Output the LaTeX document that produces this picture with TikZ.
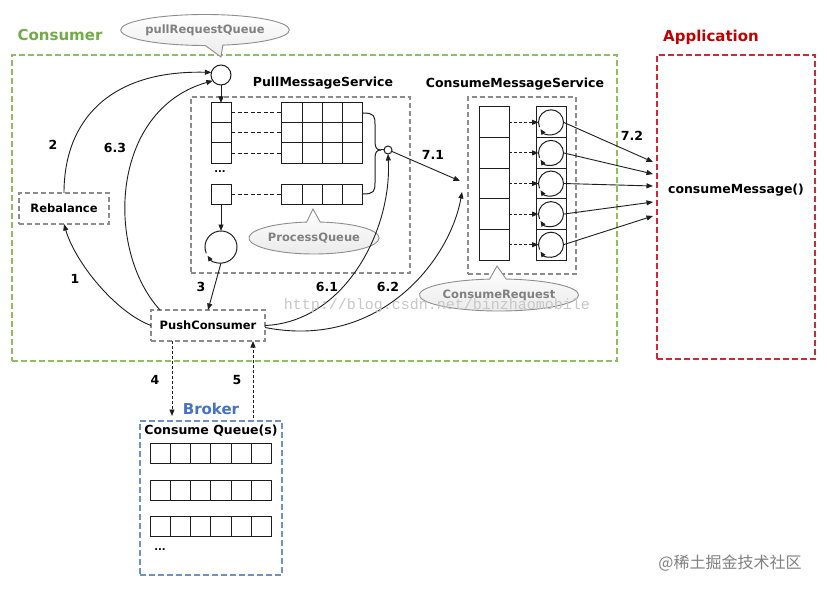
\documentclass[tikz,border=0pt]{standalone}
\usepackage{fontspec}
\setmainfont{DejaVu Sans}
\newfontfamily\wmfont{Liberation Mono}
\newfontfamily\cjkfont{Noto Sans CJK SC}
\usetikzlibrary{arrows.meta,shapes.callouts}
\definecolor{cgreen}{RGB}{112,173,71}
\definecolor{cgreenbox}{RGB}{140,190,100}
\definecolor{cred}{RGB}{192,0,0}
\definecolor{credbox}{RGB}{205,40,55}
\definecolor{cblue}{RGB}{68,114,196}
\definecolor{cbluebox}{RGB}{110,145,200}
\definecolor{cgray}{RGB}{128,128,128}
\definecolor{cboxgray}{RGB}{140,140,140}
\definecolor{cline}{RGB}{30,30,30}
\tikzset{
  grpbox/.style={draw, line width=1.1pt, dash pattern=on 6pt off 3pt, inner sep=0pt, outer sep=0pt},
  svcbox/.style={draw=cboxgray, line width=1.2pt, dash pattern=on 5pt off 3pt, inner sep=0pt, outer sep=0pt},
  cell/.style={draw=cline, line width=1pt, inner sep=0pt, outer sep=0pt},
  ring/.style={circle, inner sep=0pt, outer sep=0pt},
  ttl/.style={font=\fontsize{15}{18}\selectfont\bfseries, inner sep=0pt},
  hdr/.style={font=\fontsize{12.5}{15}\selectfont\bfseries, inner sep=0pt},
  lbl/.style={font=\fontsize{11.5}{14}\selectfont\bfseries, inner sep=0pt},
  num/.style={font=\fontsize{12.5}{15}\selectfont\bfseries, inner sep=0pt},
  bubble/.style={ellipse callout, draw=cgray!90, line width=0.9pt, top color=white, bottom color=black!8, text=cgray, font=\fontsize{11.5}{14}\selectfont\bfseries, inner sep=0pt, callout pointer arc=12},
  arr/.style={draw=cline, line width=0.9pt, -{Triangle[length=6.5pt,width=5pt]}},
  darr/.style={arr, dash pattern=on 3pt off 2pt},
  dline/.style={draw=cline, line width=1pt, dash pattern=on 4pt off 2.5pt},
  cyc/.style={draw=cline, line width=1pt, -{Triangle[length=5.5pt,width=4.5pt]}},
  plain/.style={draw=cline, line width=1pt},
}
\begin{document}
\begin{tikzpicture}[x=1pt,y=-1pt]
\fill[white] (0,0) rectangle (827,591);
\useasboundingbox (0,0) rectangle (827,591);

% group boxes
\node[grpbox, draw=cgreenbox, minimum width=605pt, minimum height=306pt] (consbox) at (314.5,208) {};
\node[grpbox, draw=credbox, minimum width=158pt, minimum height=304pt] (appbox) at (736,207) {};
\node[grpbox, draw=cbluebox, minimum width=142pt, minimum height=154pt] (brokbox) at (211,498) {};
\node[svcbox, minimum width=219pt, minimum height=176pt] (pmsbox) at (300.5,185) {};
\node[svcbox, minimum width=108pt, minimum height=177pt] (cmsbox) at (522,185.5) {};
\node[svcbox, minimum width=90pt, minimum height=31pt, lbl] (reb) at (64,208.5) {Rebalance};
\node[svcbox, minimum width=114pt, minimum height=31pt, lbl] (push) at (208,325.5) {PushConsumer};

% titles
\node[ttl, text=cgreen] (tcons) at (60,35) {Consumer};
\node[ttl, text=cred] (tapp) at (711,37) {Application};
\node[ttl, text=cblue] (tbrok) at (211,409) {Broker};
\node[hdr] (tpms) at (323,83) {PullMessageService};
\node[hdr] (tcms) at (515,84) {ConsumeMessageService};
\node[hdr] (tcm) at (736,190) {consumeMessage()};
\node[hdr] (tcq) at (211,431) {Consume Queue(s)};

% callouts
\node[bubble, minimum width=165pt, minimum height=31pt, callout absolute pointer={(221,57)}] (cb1) at (205,30) {pullRequestQueue};
\node[bubble, minimum width=130pt, minimum height=32pt, callout absolute pointer={(313,209)}] (cb2) at (314,238) {ProcessQueue};
\node[bubble, minimum width=155pt, minimum height=32pt, callout absolute pointer={(497,266)}] (cb3) at (499,295) {ConsumeRequest};

% pull request queue circle
\node[ring, draw=cline, line width=1pt, minimum size=20pt] (prq) at (221,75) {};

% PullMessageService contents
\node[cell, minimum width=20pt, minimum height=20pt] (lc1) at (221,113) {};
\node[cell, minimum width=20pt, minimum height=20pt] (lc2) at (221,133) {};
\node[cell, minimum width=20pt, minimum height=20pt] (lc3) at (221,153) {};
\node[cell, minimum width=20pt, minimum height=20pt] (lc4) at (221,194) {};
\node[font=\fontsize{10}{12}\selectfont\bfseries, inner sep=0pt] (ldots) at (220,172) {...};
\foreach \r/\y in {1/113,2/133,3/153,4/194}{
  \foreach \i in {0,...,3}{
    \node[cell, minimum width=20.25pt, minimum height=20pt] (g\r-\i) at ({292.1+20.25*\i},\y) {};
  }
}
\draw[dline] (lc1.east) -- (g1-0.west);
\draw[dline] (lc2.east) -- (g2-0.west);
\draw[dline] (lc3.east) -- (g3-0.west);
\draw[dline] (lc4.east) -- (g4-0.west);

\coordinate (bp) at (381,150);
\node[ring, draw=cline, line width=1pt, minimum size=8pt] (sc) at (388,150) {};
\draw[plain] (g1-3.east) .. controls (374,113) and (375,116) .. (375,124) -- (375,142) .. controls (375,148) and (377,150) .. (bp);
\draw[plain] (g4-3.east) .. controls (374,194) and (375,191) .. (375,183) -- (375,158) .. controls (375,152) and (377,150) .. (bp);
\draw[plain] (bp) -- (sc.west);

\node[ring, minimum size=32pt] (lp) at (221,247) {};
\draw[cyc] (lp.203) arc[start angle=-203, end angle=147, radius=16];

\draw[arr] (prq.south) -- (lc1.north);
\draw[arr] (lc4.south) -- (lp.north);

% ConsumeMessageService contents
\foreach \i/\y in {1/122.3,2/152.9,3/183.5,4/214.1,5/244.7}{
  \node[cell, minimum width=30pt, minimum height=30.6pt] (ql\i) at (494,\y) {};
  \node[cell, minimum width=30pt, minimum height=30.6pt] (qr\i) at (551,\y) {};
  \node[ring, minimum size=25pt] (rc\i) at (551,\y) {};
  \draw[cyc] (rc\i.203) arc[start angle=-203, end angle=147, radius=12.5];
  \draw[darr] (ql\i.east) -- (rc\i.west);
}

% Application arrow targets
\coordinate (a1) at (653,162);
\coordinate (a2) at (653,174);
\coordinate (a3) at (653,186);
\coordinate (a4) at (653,202);
\coordinate (a5) at (653,216);
\draw[arr] (rc1.east) -- (a1);
\draw[arr] (rc2.east) -- (a2);
\draw[arr] (rc3.east) -- (a3);
\draw[arr] (rc4.east) -- (a4);
\draw[arr] (rc5.east) -- (a5);

% Broker queues
\foreach \r/\y in {1/453,2/490,3/526}{
  \foreach \i in {0,...,5}{
    \node[cell, minimum width=20.33pt, minimum height=20pt] (b\r-\i) at ({160.17+20.33*\i},\y) {};
  }
}
\node[font=\fontsize{10}{12}\selectfont\bfseries, inner sep=0pt] (bdots) at (160,550) {...};

% connectors
\coordinate (c71) at (460,181);
\coordinate (c62) at (462,192);
\coordinate (c4) at (172,416);
\coordinate (c5) at (253,418);

\draw[arr] (push.west) .. controls (115,312) and (75,262) .. (reb.south);
\draw[arr] (reb.north) .. controls (64,120) and (110,70) .. (prq.165);
\draw[arr] ([xshift=9pt]push.north west) .. controls (105,250) and (110,110) .. (prq.215);
\draw[arr] (lp.south) -- (push.north);
\draw[arr] (push.east) .. controls (345,322) and (392,230) .. (sc.south);
\draw[arr] ([yshift=-2pt]push.east) .. controls (380,350) and (450,260) .. (c62);
\draw[arr] (sc.-20) -- (c71);
\draw[darr] (push.south -| c4) -- (c4);
\draw[darr] (c5) -- (c5 |- push.south);

% step labels
\node[num] (n1) at (75,279) {1};
\node[num] (n2) at (53,145) {2};
\node[num] (n3) at (201,287) {3};
\node[num] (n63) at (115,148) {6.3};
\node[num] (n61) at (327,287) {6.1};
\node[num] (n62) at (388,287) {6.2};
\node[num] (n71) at (433,155) {7.1};
\node[num] (n72) at (632,136) {7.2};
\node[num] (n4) at (155,380) {4};
\node[num] (n5) at (237,380) {5};

% watermarks (on top, as in the reference)
\node[text=black!22, font=\wmfont\fontsize{15}{17}\selectfont, inner sep=0pt] (wm) at (437,306) {http://blog.csdn.net/binzhaomobile};
\node[text=black!50, font=\cjkfont\fontsize{16}{18}\selectfont, inner sep=0pt] (wm2) at (730,563) {@稀土掘金技术社区};
\end{tikzpicture}
\end{document}
